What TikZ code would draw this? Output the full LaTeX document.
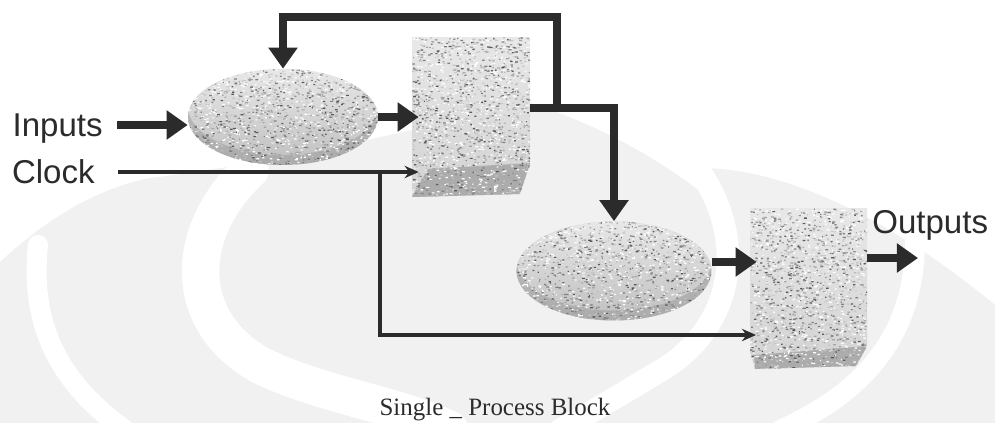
\documentclass[tikz,border=0pt]{standalone}
\usepackage{fontspec}
\setmainfont{Liberation Serif}
\newfontfamily\labelfont{Liberation Sans}
\usetikzlibrary{arrows.meta,shapes.geometric,calc}

\definecolor{wm}{HTML}{F1F1F1}
\definecolor{ink}{HTML}{2B2B2B}

% scatter small random specks over a rectangle: x0, y0, width, height, base count
\newcommand\grain[5]{%
  \foreach \tone/\fac in {white/1.3,black!22/1.0,black!35/0.8,black!50/0.6,black!65/0.35}{%
    \pgfmathtruncatemacro\graincnt{#5*\fac}%
    \fill[\tone] \foreach \k in {1,...,\graincnt}{
      ({#1+rnd*#3},{#2+rnd*#4}) rectangle ++({1+rnd*2},1.2)};}}

\begin{document}
\begin{tikzpicture}[x=0.02cm, y=-0.02cm,
  bigline/.style={draw=ink, line width=4.5pt},
  bigarrow/.style={bigline, -{Triangle[length=12pt,width=16pt]}},
  clockline/.style={draw=ink, line width=2.1pt, -{Stealth[length=8pt,width=7pt]}},
  sigtext/.style={font=\labelfont\fontsize{18.8}{22}\selectfont, text=ink,
                  text depth=0pt, inner ysep=0pt},
  blob/.style={ellipse, inner sep=0pt},
  reg/.style={rectangle, inner sep=0pt},
  band/.style={draw=white, line cap=round}]
\pgfmathsetseed{11}
\useasboundingbox (0,0) rectangle (995,423);
\fill[white] (0,0) rectangle (995,423);

% faint ring-shaped backdrop
\fill[wm] (0,423) -- (0,262) .. controls (40,225) and (90,190) .. (150,178)
  .. controls (300,160) and (450,120) .. (530,103)
  .. controls (600,125) and (660,160) .. (705,195) -- (705,168)
  .. controls (780,170) and (880,210) .. (995,305) -- (995,423) -- cycle;
\draw[band, line width=0.4cm] (38,245) .. controls (30,320) and (55,380) .. (125,430);
\draw[band, line width=0.75cm] (250,170) .. controls (185,230) and (180,320) .. (260,365)
  .. controls (320,395) and (400,405) .. (450,430);
\draw[band, line width=0.45cm] (695,165) .. controls (745,230) and (740,320) .. (665,368)
  .. controls (625,392) and (595,410) .. (560,430);
\draw[band, line width=0.4cm] (915,240) .. controls (915,330) and (870,390) .. (780,430);

% process blocks (anchors)
\node[blob, minimum width=3.8cm, minimum height=1.92cm] (ell1) at (283,117) {};
\node[blob, minimum width=3.9cm, minimum height=1.98cm] (ell2) at (614,271) {};
\node[reg, minimum width=2.36cm, minimum height=3.2cm] (box1) at (471,117) {};
\node[reg, minimum width=2.34cm, minimum height=3.22cm] (box2) at (808.5,288.5) {};

% combinational logic 1
\begin{scope}
  \clip (ell1.center) ellipse [x radius=1.9cm, y radius=0.96cm];
  \shade[top color=gray!18, middle color=gray!26, bottom color=gray!50] (187,69) rectangle (379,165);
  \fill[gray!80, opacity=0.5, even odd rule]
    (ell1.center) ellipse [x radius=1.9cm, y radius=0.96cm]
    ($(ell1.center)+(0,-10)$) ellipse [x radius=1.9cm, y radius=0.96cm];
  \grain{187}{69}{192}{96}{450}
\end{scope}

% combinational logic 2
\begin{scope}
  \clip (ell2.center) ellipse [x radius=1.95cm, y radius=0.99cm];
  \shade[top color=gray!18, middle color=gray!26, bottom color=gray!50] (516,221) rectangle (712,321);
  \fill[gray!80, opacity=0.5, even odd rule]
    (ell2.center) ellipse [x radius=1.95cm, y radius=0.99cm]
    ($(ell2.center)+(0,-10)$) ellipse [x radius=1.95cm, y radius=0.99cm];
  \grain{516}{221}{196}{100}{450}
\end{scope}

% register 1
\begin{scope}
  \clip (412,37) -- (530,37) -- (530,165) -- (520,194) -- (412,197) -- cycle;
  \shade[top color=gray!18, bottom color=gray!35] (412,37) rectangle (530,197);
  \fill[gray!65] (428,169) -- (530,163) -- (520,194) -- (412,197) -- cycle;
  \grain{412}{37}{118}{160}{420}
\end{scope}

% register 2
\begin{scope}
  \clip (750,208) -- (867,208) -- (867,347) -- (856,366) -- (755,369) -- (750,352) -- cycle;
  \shade[top color=gray!18, bottom color=gray!35] (750,208) rectangle (867,369);
  \fill[gray!65] (754,355) -- (867,346) -- (856,366) -- (755,369) -- cycle;
  \grain{750}{208}{117}{161}{420}
\end{scope}

% labels
\node[sigtext, anchor=east, inner xsep=0.28cm] (inputs) at (117,125) {Inputs};
\node[sigtext, anchor=east, inner xsep=0.46cm] (clock) at (118,172) {Clock};
\node[sigtext, anchor=south west, inner xsep=0pt] (outputs) at (872,234) {Outputs};
\node[anchor=base, inner sep=0pt, text=ink, font=\fontsize{14.2}{17}\selectfont]
  (caption) at (495,415) {Single \_ Process Block};

% junction points of the wiring
\coordinate (b1out) at (530,108);
\coordinate (split) at (557,108);
\coordinate (ridge) at (557,17);
\coordinate (tap) at (380,172);
\coordinate (clk2) at (750,335);
\coordinate (outend) at (918,258);

% data path
\draw[bigarrow] (inputs.east) -- (inputs.east -| ell1.west);
\draw[bigarrow, shorten >=-0.14cm] (ell1.east) -- (ell1.east -| box1.west);
\draw[bigarrow] (b1out) -| (ell2.north);
\draw[bigarrow] (split) -- (ridge) -| (ell1.north);
\draw[bigarrow, shorten >=-0.14cm] ([yshift=0.18cm]ell2.east) -- ([yshift=0.18cm]ell2.east -| box2.west);
\draw[bigarrow] (box2.east |- outend) -- (outend);

% clock distribution
\draw[clockline, shorten >=-0.14cm] (clock.east) -- (clock.east -| box1.west);
\draw[clockline, shorten >=-0.12cm] (tap) |- (clk2);
\end{tikzpicture}
\end{document}
